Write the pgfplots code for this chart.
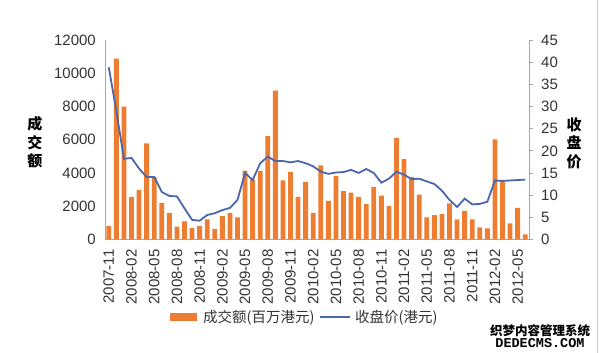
\documentclass[border=0pt]{standalone}
\usepackage{pgfplots}
\pgfplotsset{compat=1.18}
\usepackage{fontspec}
\setmainfont{Liberation Sans}
\setmonofont{Liberation Mono}
\newfontfamily\cjk{Noto Sans CJK SC}
\definecolor{barc}{HTML}{ED7D31}
\definecolor{linec}{HTML}{4A66AC}
\definecolor{axc}{HTML}{A6A6A6}
\definecolor{txt}{HTML}{333333}

\pgfplotstableread{
x vol price
0 800 38.9
1 10900 29.0
2 8000 18.2
3 2560 18.4
4 2960 16.0
5 5780 14.1
6 3750 14.1
7 2200 10.7
8 1600 9.8
9 760 9.7
10 1080 7.0
11 680 4.4
12 800 4.2
13 1200 5.5
14 620 5.9
15 1400 6.6
16 1600 7.1
17 1320 8.9
18 4140 15.0
19 3600 13.4
20 4120 17.2
21 6220 18.7
22 8960 17.7
23 3560 17.7
24 4060 17.4
25 2560 17.7
26 3460 17.2
27 1600 16.5
28 4460 15.3
29 2320 14.8
30 3820 15.1
31 2900 15.2
32 2820 15.7
33 2560 15.0
34 2120 15.9
35 3160 15.0
36 2640 12.8
37 2000 13.7
38 6120 15.3
39 4840 14.6
40 3760 13.6
41 2700 13.7
42 1320 13.1
43 1460 12.5
44 1520 11.0
45 2160 8.9
46 1200 7.3
47 1720 9.2
48 1200 7.9
49 720 8.0
50 660 8.5
51 6020 13.3
52 3460 13.2
53 960 13.3
54 1900 13.4
55 300 13.5
}\datatable

\begin{document}
\begin{tikzpicture}
\useasboundingbox (-105bp,-113.7bp) rectangle (495bp,239.3bp);
\begin{axis}[
  at={(0,0)}, anchor=south west,
  scale only axis, width=424bp, height=199bp,
  xmin=-0.5, xmax=55.5, ymin=0, ymax=12000,
  axis y line*=left, axis x line*=bottom,
  axis line style={-, draw=axc, line width=0.8bp},
  major tick length=0pt,
  xtick={0,3,...,54},
  xticklabels={2007-11,2008-02,2008-05,2008-08,2008-11,2009-02,2009-05,2009-08,2009-11,2010-02,2010-05,2010-08,2010-11,2011-02,2011-05,2011-08,2011-11,2012-02,2012-05},
  ytick={0,2000,...,12000},
  scaled y ticks=false,
  /pgf/number format/1000 sep={},
  /pgf/number format/assume math mode=true,
  tick label style={font=\fontsize{15bp}{18bp}\selectfont, text=txt},
  x tick label style={rotate=90, anchor=east, inner sep=0pt},
  xticklabel shift=10bp,
  y tick label style={inner sep=0pt},
  yticklabel shift=9bp,
  clip=false,
]
\addplot[ybar, bar width=4.8bp, bar shift=0pt, fill=barc, draw=none] table[x=x,y=vol] {\datatable};
\end{axis}
\begin{axis}[
  at={(0,0)}, anchor=south west,
  scale only axis, width=424bp, height=199bp,
  xmin=-0.5, xmax=55.5, ymin=0, ymax=45,
  axis y line*=right, axis x line=none,
  axis line style={-, draw=axc, line width=0.8bp},
  ytick={0,5,...,45},
  tick align=outside, major tick length=4bp,
  ytick style={draw=axc, line width=0.8bp},
  /pgf/number format/assume math mode=true,
  tick label style={font=\fontsize{15bp}{18bp}\selectfont, text=txt},
  y tick label style={inner sep=0pt},
  yticklabel shift=8bp,
  clip=false,
]
\addplot[linec, line width=1.8bp, mark=none] table[x=x,y=price] {\datatable};
\end{axis}
% axis titles
\node[font=\cjk\bfseries\fontsize{15bp}{18.5bp}\selectfont, align=center, text=black] at (-70bp,97bp) {成\\交\\额};
\node[font=\cjk\bfseries\fontsize{15bp}{18.5bp}\selectfont, align=center, text=black] at (469bp,96bp) {收\\盘\\价};
% legend
\fill[barc] (65bp,-82bp) rectangle (92bp,-74bp);
\node[anchor=west, inner sep=0pt, font=\cjk\fontsize{14.5bp}{16bp}\selectfont, text=txt] at (98bp,-78bp) {成交额(百万港元)};
\draw[linec, line width=1.8bp] (215bp,-78bp) -- (245bp,-78bp);
\node[anchor=west, inner sep=0pt, font=\cjk\fontsize{14.5bp}{16bp}\selectfont, text=txt] at (250bp,-78bp) {收盘价(港元)};
% watermark
\node[font=\cjk\bfseries\fontsize{12.5bp}{13bp}\selectfont, inner sep=0pt] at (435bp,-91bp) {织梦内容管理系统};
\node[font=\ttfamily\bfseries\fontsize{13.5bp}{14bp}\selectfont, inner sep=0pt] at (435bp,-104bp) {DEDECMS.COM};
\draw[black!20, line width=0.8bp] (492bp,-113.7bp) -- (492bp,239.3bp);
\end{tikzpicture}
\end{document}
